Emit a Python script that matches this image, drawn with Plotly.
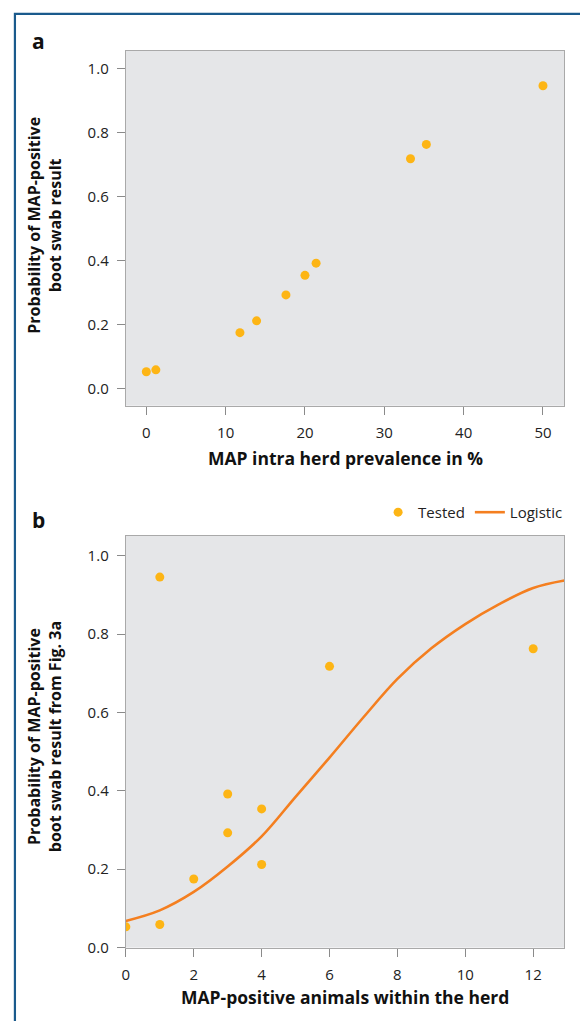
import plotly.graph_objects as go

W, H = 580, 1021

# Panel a data
prevalence = [0, 1.2, 11.8, 13.9, 17.6, 20.0, 21.4, 33.3, 35.3, 50.0]
prob_a = [0.053, 0.059, 0.175, 0.212, 0.293, 0.354, 0.392, 0.718, 0.763, 0.946]

# Panel b data
animals = [0, 1, 1, 2, 3, 3, 4, 4, 6, 12]
prob_b = [0.053, 0.946, 0.059, 0.175, 0.392, 0.293, 0.354, 0.212, 0.718, 0.763]

# Logistic curve
curve_x = [0, 1, 2, 3, 4, 5, 6, 7, 8, 9, 10, 11, 12, 12.92]
curve_y = [0.068, 0.095, 0.142, 0.207, 0.284, 0.385, 0.485, 0.588, 0.686, 0.764, 0.826, 0.877, 0.918, 0.937]

x_ticks_a = [0, 10, 20, 30, 40, 50]
x_ticks_b = [0, 2, 4, 6, 8, 10, 12]
y_ticks = [0.0, 0.2, 0.4, 0.6, 0.8, 1.0]

DOT = "#fdb515"
LINE = "#f47f20"
FONT = "Open Sans"

def px(x):
    return x / W

def py(y):
    return 1 - y / H

fig = go.Figure()
fig.add_trace(go.Scatter(x=prevalence, y=prob_a, mode="markers",
                         marker=dict(color=DOT, size=9), showlegend=False,
                         xaxis="x", yaxis="y"))
fig.add_trace(go.Scatter(x=animals, y=prob_b, mode="markers", name="Tested",
                         marker=dict(color=DOT, size=9),
                         xaxis="x2", yaxis="y2"))
fig.add_trace(go.Scatter(x=curve_x, y=curve_y, mode="lines", name="Logistic",
                         line=dict(color=LINE, width=2.6, shape="spline", smoothing=1.0),
                         xaxis="x2", yaxis="y2"))

axis_common = dict(showgrid=False, zeroline=False, showline=True, mirror=True,
                   linecolor="#a9a9a9", linewidth=1.3, ticks="outside", ticklen=8,
                   tickcolor="#8a8a8a", tickwidth=1, ticklabelstandoff=5,
                   tickfont=dict(family=FONT, size=15, color="#222"))

xd = [px(122.7), px(564.3)]
fig.update_layout(
    width=W, height=H,
    margin=dict(l=0, r=0, t=0, b=0),
    paper_bgcolor="white", plot_bgcolor="#e5e6e8",
    font=dict(family=FONT, color="#111"),
    xaxis=dict(domain=xd, range=[-2.58, 52.7], tickvals=x_ticks_a,
               anchor="y", **axis_common),
    yaxis=dict(domain=[py(409.3), py(51)], range=[-0.053, 1.056], tickvals=y_ticks,
               tickformat=".1f", anchor="x", **axis_common),
    xaxis2=dict(domain=xd, range=[0, 12.92], tickvals=x_ticks_b,
                anchor="y2", **axis_common),
    yaxis2=dict(domain=[py(956), py(540.3)], range=[0, 1.052], tickvals=y_ticks,
                tickformat=".1f", anchor="x2", **axis_common),
    legend=dict(orientation="h", x=px(568), xanchor="right", y=py(517), yanchor="middle",
                font=dict(family=FONT, size=15, color="#222"), bgcolor="rgba(0,0,0,0)",
                itemwidth=30, tracegroupgap=0),
    showlegend=True,
)

annotations = [
    dict(text="<b>a</b>", x=px(26), y=py(41), xanchor="left", yanchor="middle",
         font=dict(size=21, family=FONT, color="#111")),
    dict(text="<b>b</b>", x=px(26), y=py(525), xanchor="left", yanchor="middle",
         font=dict(size=21, family=FONT, color="#111")),
    dict(text="<b>MAP intra herd prevalence in %</b>", x=px(343.5), y=py(462),
         xanchor="center", yanchor="middle", font=dict(size=17.5, family=FONT, color="#111")),
    dict(text="<b>MAP-positive animals within the herd</b>", x=px(343.5), y=py(1006),
         xanchor="center", yanchor="middle", font=dict(size=17.5, family=FONT, color="#111")),
    dict(text="<b>Probability of MAP-positive<br>boot swab result</b>", x=px(41), y=py(227),
         xanchor="center", yanchor="middle", textangle=-90,
         font=dict(size=16, family=FONT, color="#111")),
    dict(text="<b>Probability of MAP-positive<br>boot swab result from Fig. 3a</b>", x=px(41), y=py(743),
         xanchor="center", yanchor="middle", textangle=-90,
         font=dict(size=16, family=FONT, color="#111")),
]
for a in annotations:
    a.update(xref="paper", yref="paper", showarrow=False)
fig.update_layout(annotations=annotations)

fig.add_shape(type="rect", xref="paper", yref="paper",
              x0=px(11), x1=1.05, y0=-0.05, y1=py(14),
              line=dict(color="#1a5a8c", width=2.2), fillcolor="rgba(0,0,0,0)", layer="above")

fig.write_html("out.html", config={"displayModeBar": False},
               post_script="document.body.style.margin='0';document.body.style.padding='0';"
                           "document.body.style.overflow='hidden';")
